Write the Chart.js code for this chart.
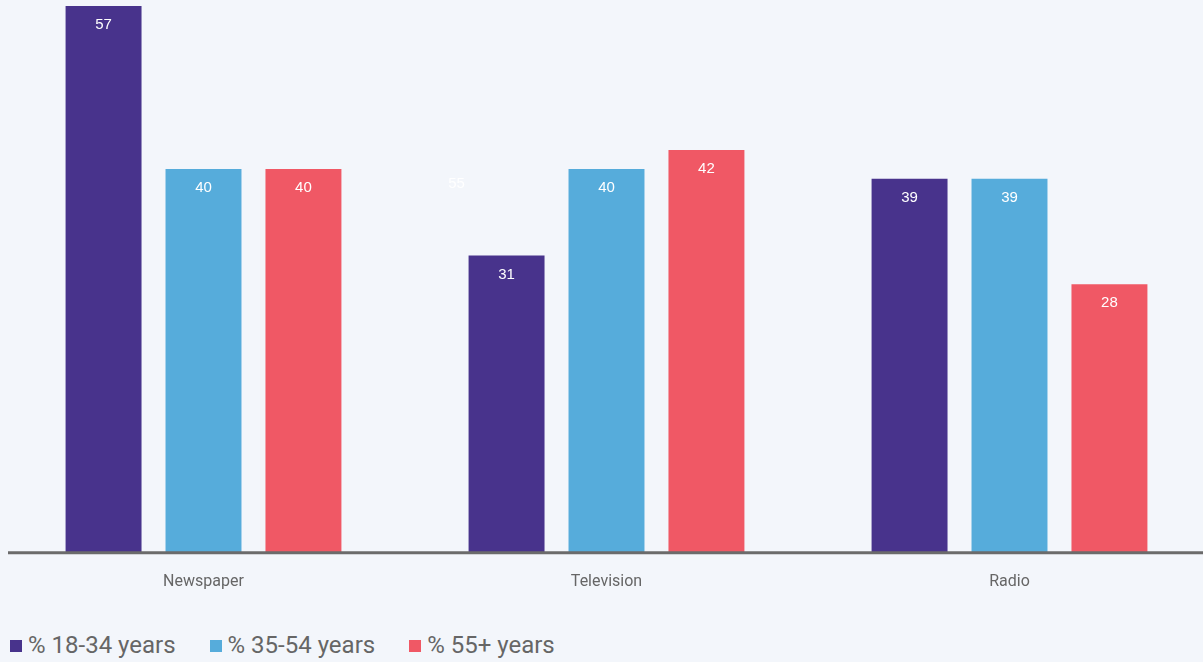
<!DOCTYPE html>
<html>
<head>
<meta charset="utf-8">
<script src="https://cdn.jsdelivr.net/npm/chart.js@4"></script>
<style>
  html, body { margin: 0; padding: 0; background: #f3f6fb; overflow: hidden; }
  #wrap { position: relative; width: 1211px; height: 604px; }
  #legend { position: absolute; left: 10px; top: 631px; display: flex; gap: 34px;
            font-family: Roboto, "Liberation Sans", sans-serif; font-size: 24px; color: #666666; }
  #legend .item { display: flex; align-items: center; }
  #legend .box { width: 12px; height: 12px; margin-right: 6px; margin-top: 2px; }
</style>
</head>
<body>
<div id="wrap"><canvas id="myChart"></canvas></div>
<div id="legend"></div>
<script>
const categories = ["Newspaper", "Television", "Radio"];
const age1834 = [57, 31, 39];
const age3554 = [40, 40, 39];
const age55plus = [40, 42, 28];
const seriesNames = ["% 18-34 years", "% 35-54 years", "% 55+ years"];
const seriesColors = ["#48338c", "#56acdb", "#f05865"];
// stray white label that sits left of the Television group
const strayLabel = { text: "55", category: 1, value: 38.5 };

const barLabels = {
  id: "barLabels",
  afterDatasetsDraw(chart) {
    const c = chart.ctx;
    c.save();
    c.fillStyle = "#ffffff";
    c.font = "15px 'Liberation Sans', Arial, sans-serif";
    c.textAlign = "center";
    c.textBaseline = "middle";
    chart.data.datasets.forEach((ds, i) => {
      chart.getDatasetMeta(i).data.forEach((bar, j) => {
        c.fillText(ds.data[j], bar.x, bar.y + 19);
      });
    });
    const first = chart.getDatasetMeta(0).data[0];
    const slot = chart.getDatasetMeta(1).data[0].x - first.x;
    const x = chart.scales.x.getPixelForValue(strayLabel.category) - 1.5 * slot;
    const y = chart.scales.y.getPixelForValue(strayLabel.value);
    c.fillStyle = "rgba(255,255,255,0.95)";
    c.fillText(strayLabel.text, x, y);
    c.restore();
  }
};

// baseline drawn a little in from the left edge, like the original
const baseline = {
  id: "baseline",
  afterDatasetsDraw(chart) {
    const c = chart.ctx;
    const y = chart.scales.y.getPixelForValue(0);
    c.save();
    c.strokeStyle = "#6b6b6b";
    c.lineWidth = 3;
    c.beginPath();
    c.moveTo(8, y);
    c.lineTo(chart.chartArea.right, y);
    c.stroke();
    c.restore();
  }
};

// html legend built from the chart's own datasets
const htmlLegend = {
  id: "htmlLegend",
  afterUpdate(chart) {
    const el = document.getElementById("legend");
    el.innerHTML = "";
    chart.data.datasets.forEach((ds) => {
      const item = document.createElement("div");
      item.className = "item";
      const box = document.createElement("span");
      box.className = "box";
      box.style.background = ds.backgroundColor;
      const txt = document.createElement("span");
      txt.textContent = ds.label;
      item.appendChild(box);
      item.appendChild(txt);
      el.appendChild(item);
    });
  }
};

const ctx = document.getElementById("myChart");

new Chart(ctx, {
  type: "bar",
  data: {
    labels: categories,
    datasets: [
      { label: seriesNames[0], data: age1834, backgroundColor: seriesColors[0] },
      { label: seriesNames[1], data: age3554, backgroundColor: seriesColors[1] },
      { label: seriesNames[2], data: age55plus, backgroundColor: seriesColors[2] },
    ],
  },
  options: {
    responsive: true,
    maintainAspectRatio: false,
    animation: false,
    categoryPercentage: 0.744,
    barPercentage: 0.76,
    layout: { padding: { left: 2, right: 0, top: 6, bottom: 0 } },
    plugins: {
      legend: { display: false },
      tooltip: { enabled: false },
    },
    scales: {
      y: {
        display: false,
        min: 0,
        max: 57,
      },
      x: {
        grid: { display: false },
        border: { display: false },
        ticks: {
          color: "#666666",
          padding: 12,
          font: { family: "Roboto, 'Liberation Sans', sans-serif", size: 16 },
        },
      },
    },
  },
  plugins: [barLabels, baseline, htmlLegend],
});
</script>
</body>
</html>
